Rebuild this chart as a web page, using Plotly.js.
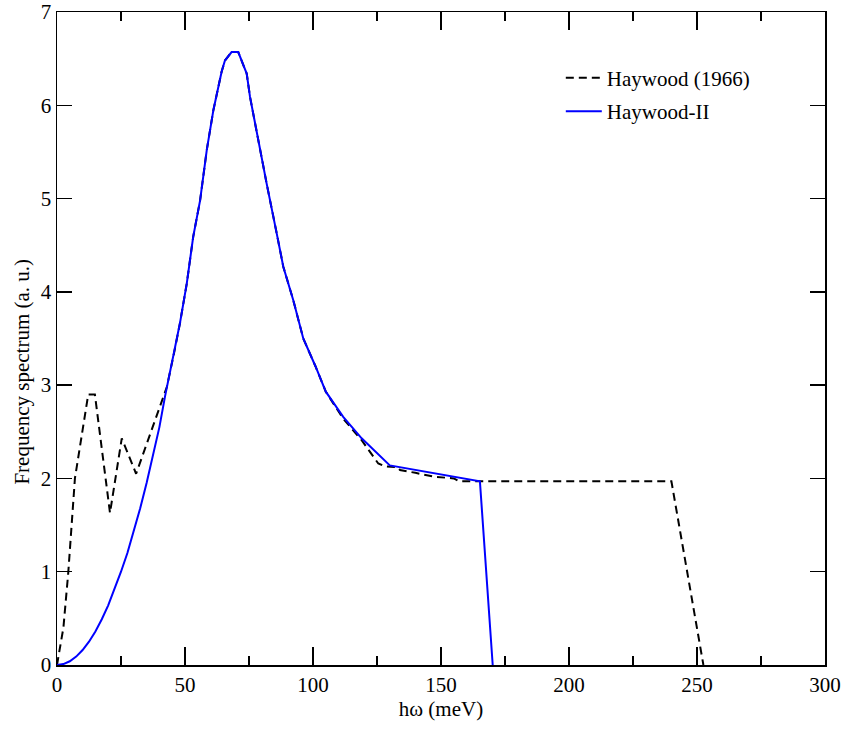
<!DOCTYPE html>
<html>
<head>
<meta charset="utf-8">
<script src="https://cdn.plot.ly/plotly-3.0.1.min.js"></script>
<style>html,body{margin:0;padding:0;background:#fff;}#chart{width:845px;height:729px;}</style>
</head>
<body>
<div id="chart"></div>
<script>
// Haywood (1966) — dashed black
const haywoodX = [0, 2.5, 4.4, 7, 12.2, 14.8, 20.7, 25.3, 30.9, 42.9, 45.4, 48, 50.7, 53.2, 55.9, 58.5, 61.1, 64.3, 65.6, 68.2, 70.8, 74.1, 75.4, 79.3, 81.9, 85.8, 88.4, 92.3, 96.2, 101, 105, 111.8, 119, 125.5, 128, 133, 134, 140, 147, 155, 157, 240, 252.5];
const haywoodY = [0, 0.4, 0.99, 2.0, 2.9, 2.9, 1.63, 2.43, 2.05, 2.98, 3.30, 3.66, 4.09, 4.59, 4.98, 5.52, 5.95, 6.36, 6.48, 6.57, 6.57, 6.34, 6.09, 5.52, 5.16, 4.63, 4.27, 3.91, 3.50, 3.2, 2.93, 2.64, 2.41, 2.16, 2.13, 2.12, 2.09, 2.06, 2.02, 2.0, 1.97, 1.97, 0];

// Haywood-II — solid blue
const haywood2X = [0, 2.5, 5, 7.5, 10, 12.5, 15, 17.5, 20, 22.5, 25, 27.5, 30, 32.5, 35, 37.5, 40, 42.2, 45.4, 48, 50.7, 53.2, 55.9, 58.5, 61.1, 64.3, 65.6, 68.2, 70.8, 74.1, 75.4, 79.3, 81.9, 85.8, 88.4, 92.3, 96.2, 101, 105, 111.8, 119, 130, 145, 160, 165.2, 170.2];
const haywood2Y = [0, 0.01, 0.04, 0.09, 0.16, 0.25, 0.36, 0.49, 0.64, 0.81, 1.0, 1.2, 1.43, 1.68, 1.95, 2.24, 2.55, 2.88, 3.30, 3.66, 4.09, 4.59, 4.98, 5.52, 5.95, 6.36, 6.48, 6.57, 6.57, 6.34, 6.09, 5.52, 5.16, 4.63, 4.27, 3.91, 3.50, 3.2, 2.93, 2.66, 2.43, 2.14, 2.07, 2.0, 1.97, 0];

const seriesNames = ["Haywood (1966)", "Haywood-II"];
const xTitle = "hω (meV)";
const yTitle = "Frequency spectrum (a. u.)";

const font = "Liberation Serif, Times New Roman, serif";

const traces = [
  {x: haywoodX, y: haywoodY, name: seriesNames[0], legendgroup: 'a', mode: 'lines', type: 'scatter',
   line: {color: '#000', width: 2, dash: '8px,5px'}},
  {x: haywood2X, y: haywood2Y, name: seriesNames[1], legendgroup: 'b', mode: 'lines', type: 'scatter',
   line: {color: 'rgb(0,0,255)', width: 2}}
];

const layout = {
  width: 845, height: 729,
  margin: {l: 57, r: 20, t: 12, b: 64},
  paper_bgcolor: '#fff', plot_bgcolor: '#fff',
  font: {family: font, color: '#000', size: 21},
  showlegend: true,
  legend: {x: 0.656, y: 0.93, xanchor: 'left', yanchor: 'top', bgcolor: 'rgba(0,0,0,0)',
           font: {family: font, size: 21}, itemwidth: 36, traceorder: 'grouped', tracegroupgap: 3},
  xaxis: {
    range: [0, 300], dtick: 50, tick0: 0, showgrid: false, zeroline: false,
    showline: true, linecolor: '#000', linewidth: 1.5, mirror: 'allticks',
    ticks: 'inside', ticklen: 18, tickwidth: 1.3, tickcolor: '#000',
    minor: {dtick: 25, ticks: 'inside', ticklen: 9, tickwidth: 1.3, tickcolor: '#000', showgrid: false},
    tickfont: {family: font, size: 21},
    title: {text: xTitle, font: {family: font, size: 21}, standoff: 2}
  },
  yaxis: {
    range: [0, 7], dtick: 1, tick0: 0, showgrid: false, zeroline: false,
    showline: true, linecolor: '#000', linewidth: 1.5, mirror: 'allticks',
    ticks: 'inside', ticklen: 15, tickwidth: 1.3, tickcolor: '#000',
    tickfont: {family: font, size: 21}
  },
  annotations: [{
    text: yTitle, textangle: -90, xref: 'paper', yref: 'paper',
    x: -0.045, y: 0.45, xanchor: 'center', yanchor: 'middle', showarrow: false,
    font: {family: font, size: 21}
  }]
};

Plotly.newPlot('chart', traces, layout, {displayModeBar: false, staticPlot: true});
</script>
</body>
</html>
